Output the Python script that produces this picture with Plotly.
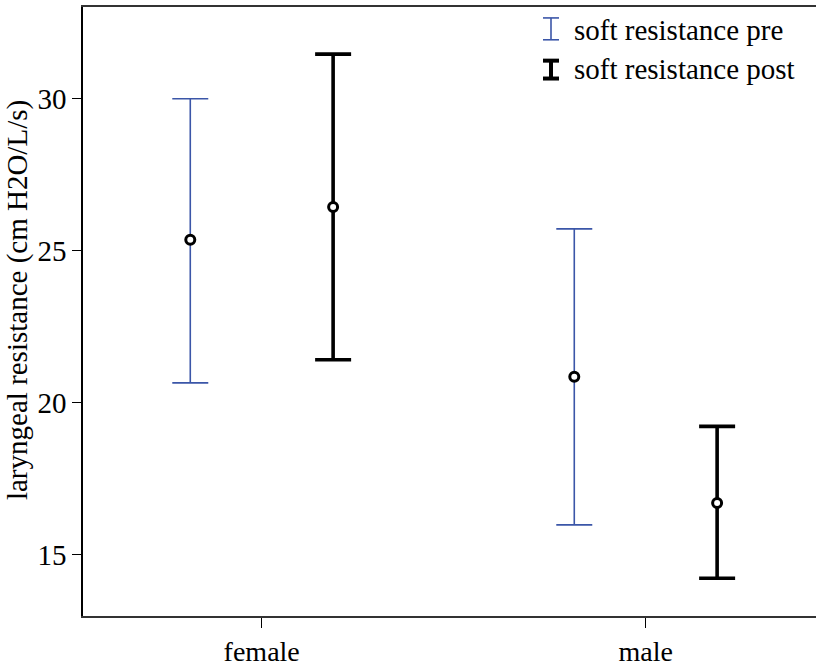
import plotly.graph_objects as go

# Laryngeal resistance by sex: means with 95% CI, before and after soft-resistance training
categories = ["female", "male"]
pre_mean = [25.36, 20.85]
pre_upper = [30.00, 25.72]
pre_lower = [20.65, 15.98]
post_mean = [26.44, 16.70]
post_upper = [31.47, 19.22]
post_lower = [21.41, 14.22]
series_names = ["soft resistance pre", "soft resistance post"]
y_ticks = [15, 20, 25, 30]
y_title = "laryngeal resistance (cm H2O/L/s)"

W, H = 816, 667
L, R, T, B = 83, 0, 7, 47
BLUE = "#3b56a8"
FONT = "Liberation Serif"

pos = list(range(len(categories)))
shift = 0.186

fig = go.Figure()

def add_series(means, upper, lower, dx, color, thick):
    fig.add_trace(go.Scatter(
        x=[p + dx for p in pos],
        y=means,
        mode="markers",
        marker=dict(symbol="circle", size=9, color="white",
                    line=dict(color="black", width=3)),
        error_y=dict(type="data", symmetric=False,
                     array=[u - m for u, m in zip(upper, means)],
                     arrayminus=[m - l for m, l in zip(means, lower)],
                     color=color, thickness=thick, width=18),
        showlegend=False,
        hoverinfo="y",
    ))

add_series(pre_mean, pre_upper, pre_lower, -shift, BLUE, 1.6)
add_series(post_mean, post_upper, post_lower, shift, "black", 3.6)

# Pixel -> paper helpers for the hand-drawn legend and axis title
pw, ph = W - L - R, H - T - B
def px(x):
    return (x - L) / pw
def py(y):
    return (H - B - y) / ph

# Legend drawn as I-beam glyphs with text labels
legend_rows = [(18, 40, BLUE, 1.6, 30), (61, 79, "black", 4, 69)]
for (y0, y1, col, lw, yc), name in zip(legend_rows, series_names):
    fig.add_shape(type="line", xref="paper", yref="paper",
                  x0=px(551), x1=px(551), y0=py(y0), y1=py(y1),
                  line=dict(color=col, width=lw))
    for yy in (y0, y1):
        fig.add_shape(type="line", xref="paper", yref="paper",
                      x0=px(543), x1=px(559), y0=py(yy), y1=py(yy),
                      line=dict(color=col, width=lw))
    fig.add_annotation(xref="paper", yref="paper", x=px(572), y=py(yc),
                       xanchor="left", yanchor="middle", showarrow=False,
                       text=name, font=dict(family=FONT, size=29, color="black"))

# Rotated y-axis title
fig.add_annotation(xref="paper", yref="paper", x=px(17), y=py(302),
                   xanchor="center", yanchor="middle", showarrow=False,
                   textangle=-90, text=y_title,
                   font=dict(family=FONT, size=29, color="black"))

x_lo = (L - 261.7) / 384
x_hi = (W - R - 261.7) / 384

fig.update_layout(
    width=W, height=H,
    margin=dict(l=L, r=R, t=T, b=B, pad=0),
    paper_bgcolor="white", plot_bgcolor="white",
    font=dict(family=FONT, size=28, color="black"),
    xaxis=dict(range=[x_lo, x_hi], tickvals=pos, ticktext=categories,
               showgrid=False, zeroline=False,
               showline=True, linecolor="#333333", linewidth=1.5, mirror=True,
               ticks="outside", ticklen=10, tickwidth=1, tickcolor="black",
               tickfont=dict(family=FONT, size=28)),
    yaxis=dict(range=[12.98, 33.02], tickvals=y_ticks,
               showgrid=False, zeroline=False,
               showline=True, linecolor="black", linewidth=1.5,
               ticks="outside", ticklen=9, tickwidth=1, tickcolor="black",
               tickfont=dict(family=FONT, size=29)),
)

fig.write_html("out.html")
